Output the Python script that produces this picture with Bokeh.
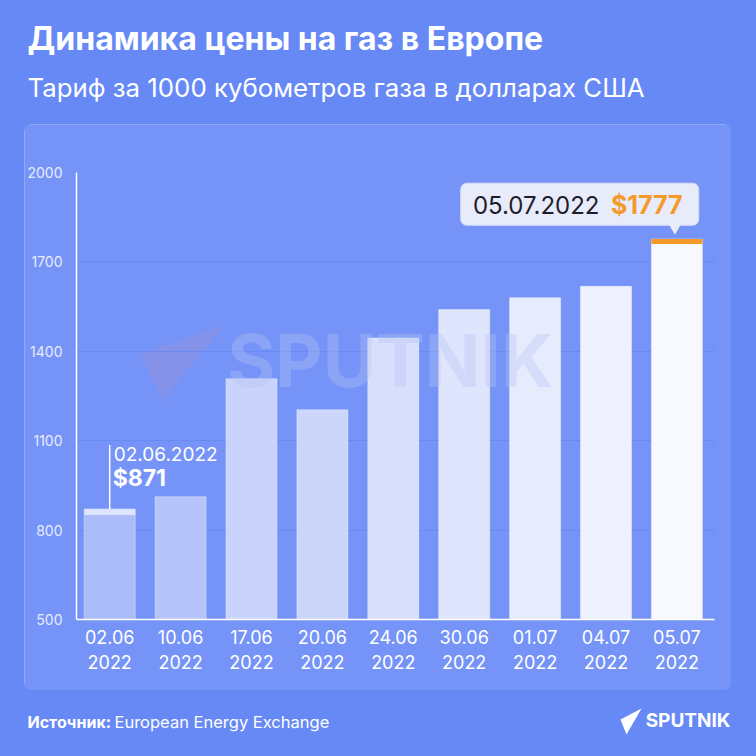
from bokeh.plotting import figure
from bokeh.layouts import column, row
from bokeh.models import FixedTicker, PolyAnnotation, Range1d
from bokeh.core.properties import value
from bokeh.embed import file_html
from bokeh.resources import INLINE

# ---- data ----
dates = ["02.06", "10.06", "17.06", "20.06", "24.06", "30.06", "01.07", "04.07", "05.07"]
years = ["2022", "2022", "2022", "2022", "2022", "2022", "2022", "2022", "2022"]
prices = [871, 912, 1308, 1204, 1445, 1540, 1580, 1618, 1777]
y_ticks = [500, 800, 1100, 1400, 1700, 2000]

title_text = "Динамика цены на газ в Европе"
subtitle_text = "Тариф за 1000 кубометров газа в долларах США"
source_label = "Источник:"
source_text = "European Energy Exchange"
brand = "SPUTNIK"

# ---- style ----
BG = "#6689F6"
PANEL = "#7694F7"
FONT = "Inter"
bar_colors = ["#ABBCF8", "#B6C4F9", "#C9D3FB", "#CCD6FB", "#D8DFFC",
              "#DFE5FD", "#E7ECFD", "#EFF2FE", "#F8F9FF"]
ORANGE = "#F49A2C"

# geometry (absolute page pixels)
PL, PR, PT, PB = 24, 731, 124, 690          # panel
FL, FR, FT, FB = 76, 714, 172, 619          # plot frame
X0PX, PXX = 109.2, 70.9
PXY = (FB - FT) / (y_ticks[-1] - y_ticks[0])


def dx(px):
    return px / PXX


def dy(px):
    return px / PXY


def sx(X):
    return X - FL


def sy(Y):
    return FB - Y


def plain_fig(h, y0, y1, color):
    f = figure(width=756, height=h, output_backend="svg", toolbar_location=None,
               x_range=Range1d(0, 756), y_range=Range1d(y1, y0),
               min_border=0, x_axis_location=None, y_axis_location=None)
    f.background_fill_color = color
    f.border_fill_color = color
    f.outline_line_color = None
    f.grid.grid_line_color = None
    return f


# ---- header ----
top = plain_fig(PT, 0, PT, BG)
top.text(x=[27], y=[38], text=[title_text], text_font=value(FONT), text_font_style="bold",
         text_font_size="32px", text_color="white", text_baseline="middle")
top.text(x=[27], y=[87], text=[subtitle_text], text_font=value(FONT),
         text_font_size="25.8px", text_color="white", text_baseline="middle")

# ---- chart ----
xs = list(range(len(prices)))
p = figure(width=PR - PL, height=PB - PT, output_backend="svg", toolbar_location=None,
           x_range=Range1d((FL - X0PX) / PXX, (FR - X0PX) / PXX),
           y_range=Range1d(y_ticks[0], y_ticks[-1]),
           min_border_left=FL - PL, min_border_right=PR - FR,
           min_border_top=FT - PT, min_border_bottom=PB - FB,
           margin=(0, 756 - PR, 0, PL),
           styles={"border-radius": "8px", "overflow": "hidden",
                   "outline": "1.5px solid rgba(255,255,255,0.35)",
                   "outline-offset": "-1.5px"})
p.background_fill_color = PANEL
p.border_fill_color = PANEL
p.outline_line_color = None

p.xgrid.grid_line_color = None
p.ygrid.grid_line_color = "#6A88F1"
p.ygrid.ticker = FixedTicker(ticks=y_ticks)

p.yaxis.ticker = FixedTicker(ticks=y_ticks)
p.yaxis.axis_line_color = "white"
p.yaxis.axis_line_width = 1.5
p.yaxis.major_tick_line_color = None
p.yaxis.minor_tick_line_color = None
p.yaxis.major_label_text_color = "#E6ECFF"
p.yaxis.major_label_text_font = FONT
p.yaxis.major_label_text_font_size = "14px"
p.yaxis.major_label_standoff = 8

p.xaxis.ticker = FixedTicker(ticks=xs)
p.xaxis.major_label_overrides = {i: f"{d}\n{y}" for i, (d, y) in enumerate(zip(dates, years))}
p.xaxis.axis_line_color = "white"
p.xaxis.axis_line_width = 1.5
p.xaxis.major_tick_line_color = None
p.xaxis.minor_tick_line_color = None
p.xaxis.major_label_text_color = "white"
p.xaxis.major_label_text_font = FONT
p.xaxis.major_label_text_font_size = "18px"
p.xaxis.major_label_standoff = 1

# watermark triangle
p.add_layout(PolyAnnotation(xs=[sx(223), sx(140), sx(162)], ys=[sy(325), sy(353), sy(400)],
                            xs_units="screen", ys_units="screen",
                            fill_color="#C88AB0", fill_alpha=0.18, line_color=None,
                            level="image"))

# bars
p.vbar(x=xs, top=prices, bottom=y_ticks[0], width=0.72, fill_color=bar_colors,
       line_color="white", line_alpha=0.35, line_width=1)

# watermark text (over bars)
p.text(x=[(390 - X0PX) / PXX], y=[y_ticks[0] + dy(FB - 360)], text=[brand],
       text_font=value(FONT), text_font_style="bold", text_font_size="73px",
       text_color="#B4C2F4", text_alpha=0.35, text_align="center", text_baseline="middle")

# first bar annotation
p.vbar(x=[xs[0]], top=[prices[0]], bottom=[prices[0] - dy(6)], width=0.72,
       fill_color="#DDE4FD", line_color=None)
p.segment(x0=[xs[0]], y0=[prices[0]], x1=[xs[0]], y1=[prices[0] + dy(64)],
          line_color="white", line_width=1.5)
p.text(x=[xs[0]], y=[prices[0]], text=[f"{dates[0]}.{years[0]}"], x_offset=4, y_offset=-55,
       text_font=value(FONT), text_font_size="19px", text_color="white",
       text_baseline="middle", text_align="left")
p.text(x=[xs[0]], y=[prices[0]], text=[f"${prices[0]}"], x_offset=3, y_offset=-31,
       text_font=value(FONT), text_font_style="bold", text_font_size="23px", text_color="white",
       text_baseline="middle", text_align="left")

# last bar annotation
last = xs[-1]
p.vbar(x=[last], top=[prices[-1]], bottom=[prices[-1] - dy(5)], width=0.72,
       fill_color=ORANGE, line_color=None)
p.quad(left=[last + dx(460 - 676.2)], right=[last + dx(698 - 676.2)],
       top=[prices[-1] + dy(238.7 - 183)], bottom=[prices[-1] + dy(238.7 - 225)],
       fill_color="#E7EBFA", line_color="#D5DCF5", line_width=1, border_radius=6)
p.scatter(x=[last + dx(-2)], y=[prices[-1] + dy(238.7 - 227)], marker="inverted_triangle",
          size=13, fill_color="#E7EBFA", line_color=None)
p.text(x=[last], y=[prices[-1]], text=[f"{dates[-1]}.{years[-1]}"], x_offset=-204, y_offset=-34,
       text_font=value(FONT), text_font_size="24px", text_color="#1D1E2C",
       text_baseline="middle", text_align="left")
p.text(x=[last], y=[prices[-1]], text=[f"${prices[-1]}"], x_offset=-66, y_offset=-34,
       text_font=value(FONT), text_font_style="bold", text_font_size="25px", text_color=ORANGE,
       text_baseline="middle", text_align="left")

# ---- footer ----
bot = plain_fig(756 - PB, PB, 756, BG)
bot.text(x=[27], y=[721], text=[source_label], text_font=value(FONT), text_font_style="bold",
         text_font_size="16px", text_color="white", text_baseline="middle")
bot.text(x=[114], y=[721], text=[source_text], text_font=value(FONT),
         text_font_size="16.5px", text_color="white", text_baseline="middle")
bot.text(x=[730], y=[720], text=[brand], text_font=value(FONT), text_font_style="bold",
         text_font_size="19px", text_color="white", text_baseline="middle", text_align="right")
bot.patch(x=[641, 620, 626], y=[708, 719, 734], fill_color="white", line_color=None)

layout = column(row(top), p, row(bot), spacing=0, styles={"background-color": BG})
open("out.html", "w").write(file_html(layout, INLINE))
